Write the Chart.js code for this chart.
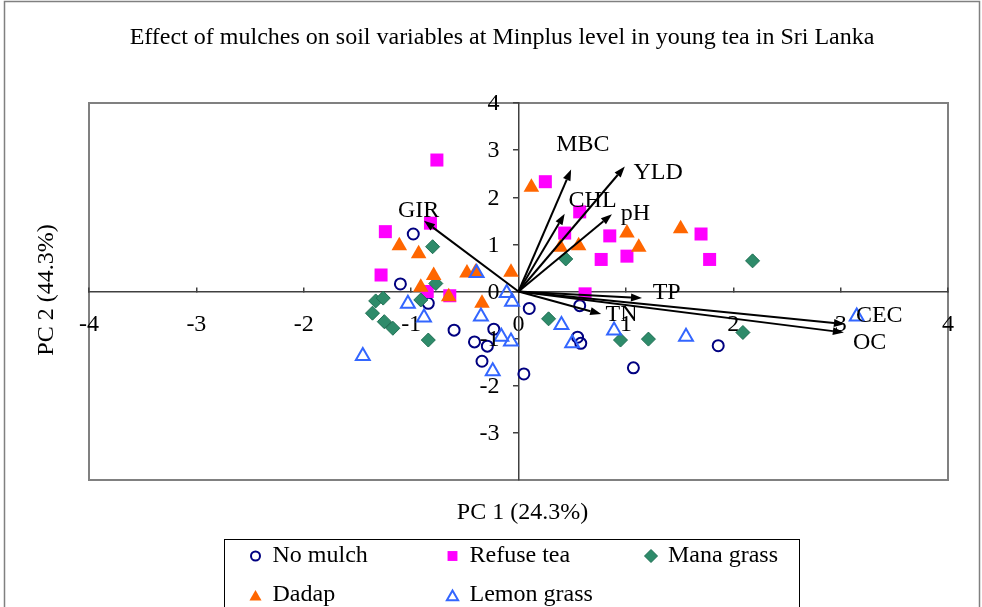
<!DOCTYPE html>
<html>
<head>
<meta charset="utf-8">
<script src="https://cdn.jsdelivr.net/npm/chart.js@4/dist/chart.umd.min.js"></script>
<style>
  html, body { margin: 0; padding: 0; background: #fff; }
</style>
</head>
<body>
<canvas id="myChart" width="982" height="607"></canvas>
<script>
'use strict';

// scores on PC1 / PC2 for each mulch
let noMulchX = [-0.98, -1.10, -0.84, -0.60, -0.23, -0.41, -0.29, -0.34, 0.05, 0.10, 0.57, 0.55, 0.58, 1.07, 1.86];
let noMulchY = [1.22, 0.16, -0.25, -0.82, -0.80, -1.07, -1.16, -1.48, -1.75, -0.36, -0.30, -0.97, -1.10, -1.62, -1.15];

let refuseX = [-0.76, 0.25, -1.24, -0.82, 0.57, 0.43, 0.85, 0.77, 1.01, 1.70, 1.78, -1.28, -0.85, -0.64, 0.62];
let refuseY = [2.79, 2.33, 1.27, 1.45, 1.69, 1.24, 1.18, 0.68, 0.75, 1.22, 0.68, 0.35, 0.00, -0.09, -0.05];

let manaX = [-0.80, -0.77, 0.44, 2.18, -1.33, -1.26, -0.91, -1.36, -1.25, -1.17, -0.84, 0.28, 0.95, 1.21, 2.09];
let manaY = [0.95, 0.17, 0.69, 0.65, -0.20, -0.14, -0.18, -0.46, -0.64, -0.78, -1.03, -0.58, -1.03, -1.01, -0.87];

let dadapX = [0.12, -1.11, -0.93, -0.79, -0.91, -0.65, -0.48, -0.40, -0.34, -0.07, 0.39, 0.56, 1.01, 1.12, 1.51];
let dadapY = [2.21, 0.97, 0.80, 0.34, 0.09, -0.11, 0.39, 0.41, -0.25, 0.41, 0.94, 0.97, 1.24, 0.94, 1.33];

let lemonX = [-0.39, -0.11, -0.06, -1.03, -0.88, -0.35, -1.45, -0.16, -0.07, -0.24, 0.40, 0.50, 0.89, 1.56, 3.15];
let lemonY = [0.39, -0.03, -0.22, -0.26, -0.55, -0.53, -1.37, -0.96, -1.06, -1.69, -0.71, -1.10, -0.83, -0.96, -0.53];

// variable loadings (arrow tips) and where their names sit
let varNames = ['GIR', 'MBC', 'YLD', 'CHL', 'pH', 'TP', 'TN', 'CEC', 'OC'];
let varPC1 = [-0.88, 0.49, 0.99, 0.43, 0.87, 1.15, 0.77, 3.04, 3.03];
let varPC2 = [1.50, 2.59, 2.65, 1.65, 1.64, -0.14, -0.48, -0.69, -0.87];
let varLabX = [-0.93, 0.60, 1.30, 0.69, 1.09, 1.38, 0.96, 3.36, 3.27];
let varLabY = [1.71, 3.11, 2.53, 1.92, 1.65, -0.03, -0.50, -0.52, -1.08];

let xTicks = [-4, -3, -2, -1, 0, 1, 2, 3, 4];
let yTicks = [-3, -2, -1, 0, 1, 2, 3, 4];

let titleText = 'Effect of mulches on soil variables at Minplus level in young tea in Sri Lanka';
let xTitle = 'PC 1 (24.3%)';
let yTitle = 'PC 2 (44.3%)';

const SERIF = '"Liberation Serif", "Times New Roman", serif';

function pts(xs, ys) {
    let out = [];
    for (let i = 0; i < xs.length; i++) {
        out.push({ x: xs[i], y: ys[i] });
    }
    return out;
}

let series = [
    { label: 'No mulch', data: pts(noMulchX, noMulchY), pointStyle: 'circle', pointRadius: 5.5, backgroundColor: 'rgba(0,0,0,0)', borderColor: '#000080', pointBorderWidth: 2, order: 5 },
    { label: 'Refuse tea', data: pts(refuseX, refuseY), pointStyle: 'rect', pointRadius: 9.2, backgroundColor: '#ff00ff', borderColor: '#ff00ff', pointBorderWidth: 0, order: 4 },
    { label: 'Mana grass', data: pts(manaX, manaY), pointStyle: 'rectRot', pointRadius: 7, backgroundColor: '#2e8b6a', borderColor: '#1d6e52', pointBorderWidth: 1, order: 3 },
    { label: 'Dadap', data: pts(dadapX, dadapY), pointStyle: 'triangle', pointRadius: 9, backgroundColor: '#ff6600', borderColor: '#ff6600', pointBorderWidth: 0, order: 2 },
    { label: 'Lemon grass', data: pts(lemonX, lemonY), pointStyle: 'triangle', pointRadius: 8, backgroundColor: 'rgba(0,0,0,0)', borderColor: '#3366ff', pointBorderWidth: 2, order: 1 }
];

function drawArrow(ctx, x0, y0, x1, y1) {
    let ang = Math.atan2(y1 - y0, x1 - x0);
    let len = 11, half = 4;
    let bx = x1 - Math.cos(ang) * len;
    let by = y1 - Math.sin(ang) * len;
    ctx.beginPath();
    ctx.moveTo(x0, y0);
    ctx.lineTo(bx, by);
    ctx.stroke();
    ctx.beginPath();
    ctx.moveTo(x1, y1);
    ctx.lineTo(bx - Math.sin(ang) * half, by + Math.cos(ang) * half);
    ctx.lineTo(bx + Math.sin(ang) * half, by - Math.cos(ang) * half);
    ctx.closePath();
    ctx.fill();
}

const decor = {
    id: 'decor',
    beforeDraw(chart) {
        let ctx = chart.ctx;
        let a = chart.chartArea;
        ctx.save();
        ctx.fillStyle = '#fff';
        ctx.fillRect(0, 0, chart.width, chart.height);
        ctx.strokeStyle = '#808080';
        ctx.lineWidth = 1.5;
        ctx.strokeRect(4.5, 1.5, 975, 700);
        ctx.lineWidth = 2;
        ctx.strokeRect(a.left, a.top, a.right - a.left, a.bottom - a.top);
        ctx.restore();
    },
    afterDatasetsDraw(chart) {
        let ctx = chart.ctx;
        let sx = chart.scales.x, sy = chart.scales.y;
        let ox = sx.getPixelForValue(0), oy = sy.getPixelForValue(0);
        ctx.save();
        ctx.strokeStyle = '#000';
        ctx.fillStyle = '#000';
        ctx.lineWidth = 2;
        for (let i = 0; i < varNames.length; i++) {
            drawArrow(ctx, ox, oy, sx.getPixelForValue(varPC1[i]), sy.getPixelForValue(varPC2[i]));
        }
        ctx.font = '24px ' + SERIF;
        ctx.textAlign = 'center';
        ctx.textBaseline = 'middle';
        for (let i = 0; i < varNames.length; i++) {
            ctx.fillText(varNames[i], sx.getPixelForValue(varLabX[i]), sy.getPixelForValue(varLabY[i]));
        }
        ctx.restore();
    },
    afterDraw(chart) {
        let ctx = chart.ctx;
        let a = chart.chartArea;
        let sx = chart.scales.x, sy = chart.scales.y;
        ctx.save();
        ctx.fillStyle = '#000';
        ctx.font = '24px ' + SERIF;
        ctx.textBaseline = 'middle';

        // y tick labels, left of the vertical axis
        ctx.textAlign = 'right';
        let ox = sx.getPixelForValue(0);
        for (let i = 0; i < yTicks.length; i++) {
            ctx.fillText(String(yTicks[i]), ox - 19, sy.getPixelForValue(yTicks[i]) + 1);
        }

        ctx.textAlign = 'center';
        ctx.fillText(titleText, 502, 38);
        ctx.fillText(xTitle, (a.left + a.right) / 2 + 4, 513);
        ctx.save();
        ctx.translate(47, 290);
        ctx.rotate(-Math.PI / 2);
        ctx.fillText(yTitle, 0, 0);
        ctx.restore();

        // legend box
        ctx.strokeStyle = '#000';
        ctx.lineWidth = 1;
        ctx.strokeRect(224.5, 539.5, 575, 100);
        let colX = [255.5, 452.5, 651];
        let rowY = [556, 595];
        let legR = [4.5, 7, 6.5, 7, 6.5];
        ctx.textAlign = 'left';
        for (let i = 0; i < series.length; i++) {
            let s = series[i];
            let cx = colX[i % 3], cy = rowY[Math.floor(i / 3)];
            ctx.fillStyle = s.backgroundColor;
            ctx.strokeStyle = s.borderColor;
            ctx.lineWidth = s.pointBorderWidth;
            Chart.helpers.drawPoint(ctx, { pointStyle: s.pointStyle, radius: legR[i], borderWidth: s.pointBorderWidth, rotation: 0 }, cx, cy + (s.pointStyle === 'triangle' ? 2 : 0));
            ctx.fillStyle = '#000';
            ctx.fillText(s.label, cx + 17, cy);
        }
        ctx.restore();
    }
};

let ctx = document.getElementById('myChart').getContext('2d');
let myChart = new Chart(ctx, {
    type: 'scatter',
    data: { datasets: series },
    plugins: [decor],
    options: {
        responsive: false,
        animation: false,
        devicePixelRatio: 1,
        layout: { padding: { left: 89, top: 103, right: 34, bottom: 127 } },
        plugins: { legend: { display: false }, title: { display: false }, tooltip: { enabled: false } },
        scales: {
            x: {
                type: 'linear', min: -4, max: 4,
                position: { y: 0 },
                afterBuildTicks: (scale) => { scale.ticks = xTicks.map(v => ({ value: v })); },
                border: { display: true, color: '#404040', width: 1.5 },
                grid: { drawOnChartArea: false, drawTicks: true, tickLength: -5, color: '#404040', lineWidth: 1.5 },
                ticks: { padding: 24, color: '#000', maxRotation: 0, autoSkip: false, font: { family: SERIF, size: 24 } }
            },
            y: {
                type: 'linear', min: -4, max: 4,
                position: { x: 0 },
                afterBuildTicks: (scale) => { scale.ticks = yTicks.map(v => ({ value: v })); },
                border: { display: true, color: '#404040', width: 1.5 },
                grid: { drawOnChartArea: false, drawTicks: true, tickLength: 5, color: '#404040', lineWidth: 1.5 },
                ticks: { display: false, autoSkip: false }
            }
        }
    }
});
</script>
</body>
</html>
